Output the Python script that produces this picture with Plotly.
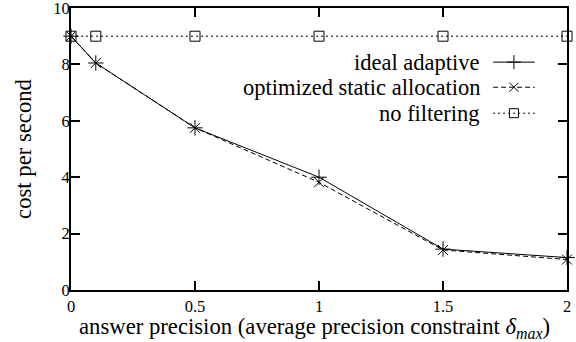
import plotly.graph_objects as go

# ---- data ----
x_vals = [0, 0.1, 0.5, 1, 1.5, 2]
ideal_adaptive = [9.0, 8.05, 5.75, 4.0, 1.45, 1.15]
static_alloc = [9.0, 8.05, 5.75, 3.82, 1.42, 1.08]
no_filtering = [9.0, 9.0, 9.0, 9.0, 9.0, 9.0]
series_names = ["ideal adaptive", "optimized static allocation", "no filtering"]
x_ticks = [0, 0.5, 1, 1.5, 2]
x_tick_text = ["0", "0.5", "1", "1.5", "2"]
y_ticks = [0, 2, 4, 6, 8, 10]
x_title = "answer precision (average precision constraint <i>δ<sub>max</sub></i>)"
y_title = "cost per second"

FONT = "Liberation Serif"
styles = [
    dict(dash="solid", symbol="cross-thin", size=11),
    dict(dash="5px,3px", symbol="x-thin", size=10),
    dict(dash="2px,3px", symbol="square-open", size=10),
]
series = [ideal_adaptive, static_alloc, no_filtering]

fig = go.Figure()
for name, ys, st in reversed(list(zip(series_names, series, styles))):
    fig.add_trace(go.Scatter(
        x=x_vals, y=ys, mode="lines+markers", name=name, showlegend=False,
        line=dict(color="black", width=1, dash=st["dash"]),
        marker=dict(symbol=st["symbol"], size=st["size"], color="black",
                    line=dict(color="black", width=1)),
        xaxis="x", yaxis="y", cliponaxis=False,
    ))

# legend keys on an overlay axis (0..1 in both directions)
leg_y = [0.808, 0.719, 0.627]
leg_x0, leg_x1, leg_xm, leg_text_x = 0.851, 0.935, 0.893, 0.829
for name, st, ly in zip(series_names, styles, leg_y):
    fig.add_trace(go.Scatter(
        x=[leg_x0, leg_x1], y=[ly, ly], mode="lines", showlegend=False,
        line=dict(color="black", width=1, dash=st["dash"]),
        xaxis="x2", yaxis="y2", hoverinfo="skip",
    ))
    fig.add_trace(go.Scatter(
        x=[leg_xm], y=[ly], mode="markers", showlegend=False,
        marker=dict(symbol=st["symbol"], size=st["size"] - 1, color="black",
                    line=dict(color="black", width=1)),
        xaxis="x2", yaxis="y2", hoverinfo="skip",
    ))
    fig.add_annotation(
        x=leg_text_x, y=ly, xref="paper", yref="paper", text=name,
        showarrow=False, xanchor="right", yanchor="middle",
        font=dict(family=FONT, size=22.5, color="black"),
    )

# x axis title as a centred annotation below the tick labels
fig.add_annotation(
    x=0.49, y=-0.135, xref="paper", yref="paper", text=x_title,
    showarrow=False, xanchor="center", yanchor="middle",
    font=dict(family=FONT, size=22.7, color="black"),
)

axis_common = dict(
    showline=True, linecolor="black", linewidth=2, mirror="allticks",
    ticks="inside", ticklen=9, tickwidth=1.5, tickcolor="black",
    showgrid=False, zeroline=False, automargin=False,
    ticklabeloverflow="allow",
    tickfont=dict(family=FONT, size=16.5, color="black"),
)

fig.update_layout(
    width=576, height=342,
    margin=dict(l=71, r=9, t=8, b=52),
    paper_bgcolor="white", plot_bgcolor="white",
    showlegend=False,
    xaxis=dict(range=[0, 2], tickvals=x_ticks, ticktext=x_tick_text, **axis_common),
    yaxis=dict(range=[0, 10], tickvals=y_ticks, ticklabelstandoff=-4,
               title=dict(text=y_title,
                          font=dict(family=FONT, size=22.7, color="black"), standoff=15),
               **axis_common),
    xaxis2=dict(range=[0, 1], overlaying="x", visible=False, fixedrange=True),
    yaxis2=dict(range=[0, 1], overlaying="y", visible=False, fixedrange=True),
)

fig.write_html("out.html", config={"displayModeBar": False},
               post_script="document.body.style.margin='0';document.body.style.padding='0';")
